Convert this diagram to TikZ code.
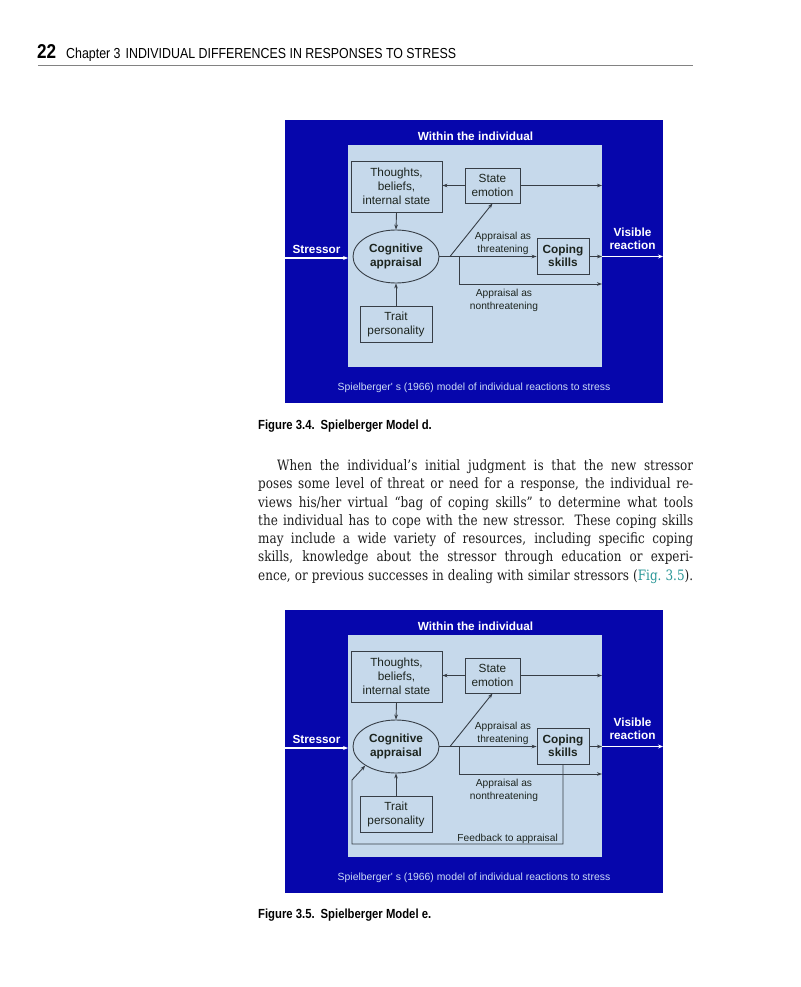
\documentclass[tikz,border=0pt]{standalone}
\usepackage{fontspec}
\setmainfont{Liberation Serif}
\newfontfamily\figsans{Liberation Sans}
\newfontfamily\condsans[FakeStretch=0.856]{Liberation Sans}
\newfontfamily\headsans[FakeStretch=0.855]{Liberation Sans}
\newfontfamily\bodyfont[FakeStretch=0.84]{DejaVu Serif}
\usetikzlibrary{arrows.meta,shapes.geometric}
\definecolor{outerblue}{RGB}{6,6,172}
\definecolor{innerfill}{RGB}{198,217,235}
\definecolor{boxline}{RGB}{55,62,70}
\definecolor{figtext}{RGB}{28,36,30}
\definecolor{capblue}{RGB}{205,220,245}
\definecolor{linkteal}{RGB}{40,150,150}
\definecolor{bodytext}{RGB}{30,30,30}
\definecolor{rulegray}{RGB}{130,130,130}
\tikzset{
  fbox/.style={draw=boxline, line width=0.9pt, fill=innerfill, inner sep=0pt, align=center, text=figtext, font=\figsans\fontsize{11.8}{14}\selectfont},
  boldbox/.style={fbox, font=\figsans\bfseries\fontsize{11.8}{13.5}\selectfont},
  conn/.style={draw=boxline, line width=0.9pt},
  tip/.style={-{Stealth[length=5pt,width=3.6pt]}},
  whitearrow/.style={draw=white, line width=1.2pt, -{Stealth[length=5pt,width=4pt]}},
  titletxt/.style={text=white, inner sep=0pt, font=\figsans\bfseries\fontsize{11.8}{13.5}\selectfont},
  whitelab/.style={text=white, inner sep=0pt, align=center, font=\figsans\bfseries\fontsize{11.8}{13.4}\selectfont},
  smalllab/.style={text=figtext, inner sep=0pt, align=center, font=\figsans\fontsize{10.2}{13}\selectfont},
  captxt/.style={text=capblue, inner sep=0pt, font=\figsans\fontsize{10.4}{12}\selectfont},
  bodyline/.style={anchor=base west, inner sep=0pt, text=bodytext, font=\bodyfont\fontsize{14.3}{18}\selectfont},
  figcap/.style={anchor=base west, inner sep=0pt, text=black, font=\condsans\bfseries\fontsize{13.2}{13.2}\selectfont},
  panel/.style={inner sep=0pt, anchor=north west}
}
\newcommand{\spielfig}[2]{%
\begin{scope}[shift={(0,#2)}]
  \node[panel, fill=outerblue, minimum width=378pt, minimum height=283pt] (#1outer) at (285,120) {};
  \node[panel, fill=innerfill, minimum width=254pt, minimum height=222pt] (#1inner) at (348,145) {};
  \node[titletxt] (#1title) at (475.5,136.5) {Within the individual};
  \node[fbox, minimum width=91pt, minimum height=51pt] (#1thoughts) at (396.5,186.5) {Thoughts,\\beliefs,\\internal state};
  \node[fbox, minimum width=55pt, minimum height=35pt] (#1state) at (492.5,185.5) {State\\emotion};
  \node[boldbox, ellipse, minimum width=86pt, minimum height=53pt] (#1cog) at (396,256.5) {Cognitive\\appraisal};
  \node[boldbox, minimum width=52pt, minimum height=36pt] (#1coping) at (563,256) {Coping\\skills};
  \node[fbox, minimum width=72pt, minimum height=36pt] (#1trait) at (396,324) {Trait\\personality};
  \node[whitelab] (#1stressor) at (316.5,249) {Stressor};
  \node[whitelab] (#1visible) at (632.5,238.5) {Visible\\reaction};
  \node[smalllab] (#1threat) at (503,243.3) {Appraisal as\\threatening};
  \node[smalllab] (#1nonthreat) at (504,300.5) {Appraisal as\\nonthreatening};
  \node[captxt] (#1cap) at (474,388) {Spielberger' s (1966) model of individual reactions to stress};
  \coordinate (#1sL) at (285,258);
  \coordinate (#1sR) at (348,258);
  \coordinate (#1seR) at (602,185.5);
  \coordinate (#1dj) at (450,256.5);
  \coordinate (#1bj) at (459,256.5);
  \coordinate (#1ntR) at (602,284);
  \coordinate (#1cR) at (602,256.5);
  \coordinate (#1oR) at (663,256.5);
  \draw[whitearrow] (#1sL) -- (#1sR);
  \draw[conn, tip] (#1state.west) -- (#1state.west -| #1thoughts.east);
  \draw[conn, tip] (#1state.east) -- (#1seR);
  \draw[conn, tip] (#1thoughts.south) -- (#1cog.north);
  \draw[conn, tip] (#1trait.north) -- (#1cog.south);
  \draw[conn, tip] (#1cog.east) -- (#1cog.east -| #1coping.west);
  \draw[conn, tip] (#1dj) -- (#1state.south);
  \draw[conn, tip] (#1bj) |- (#1ntR);
  \draw[conn, tip] (#1coping.east |- #1cR) -- (#1cR);
  \draw[whitearrow] (#1cR) -- (#1oR);
\end{scope}}
\begin{document}
\begin{tikzpicture}[x=1pt,y=-1pt]
\useasboundingbox (0,0) rectangle (800,987);
\fill[white] (0,0) rectangle (800,987);
% header
\node[anchor=base west, inner sep=0pt, font=\headsans\bfseries\fontsize{20}{20}\selectfont] (pnum) at (37,58.5) {22};
\node[anchor=base west, inner sep=0pt, font=\headsans\fontsize{14.5}{14.5}\selectfont] (chap) at (66,58.5) {Chapter 3\hspace{5pt}INDIVIDUAL DIFFERENCES IN RESPONSES TO STRESS};
\coordinate (ruleL) at (38,65);
\coordinate (ruleR) at (693,65);
\draw[rulegray, line width=0.9pt] (ruleL) -- (ruleR);
% figure 3.4
\spielfig{A}{0}
\node[figcap] (capA) at (258,429.5) {Figure 3.4.\hspace{6pt}Spielberger Model d.};
% body text
\node[bodyline] (b1) at (277,470.5) {\makebox[416pt][s]{When the individual’s initial judgment is that the new stressor}};
\node[bodyline] (b2) at (258,488.75) {\makebox[435pt][s]{poses some level of threat or need for a response, the individual re-}};
\node[bodyline] (b3) at (258,507) {\makebox[435pt][s]{views his/her virtual “bag of coping skills” to determine what tools}};
\node[bodyline] (b4) at (258,525.25) {\makebox[435pt][s]{the individual has to cope with the new stressor. These coping skills}};
\node[bodyline] (b5) at (258,543.5) {\makebox[435pt][s]{may include a wide variety of resources, including specific coping}};
\node[bodyline] (b6) at (258,561.75) {\makebox[435pt][s]{skills, knowledge about the stressor through education or experi-}};
\node[bodyline] (b7) at (258,580) {\makebox[435pt][s]{ence, or previous successes in dealing with similar stressors ({\color{linkteal}Fig.~3.5}).}};
% figure 3.5
\spielfig{B}{490}
\begin{scope}[shift={(0,490)}]
  \coordinate (fbA) at (563,354);
  \coordinate (fbB) at (352,354);
  \coordinate (fbC) at (352,290);
  \draw[conn, tip] (Bcoping.south) -- (fbA) -- (fbB) -- (fbC) -- (Bcog.south west);
  \node[smalllab, anchor=base east] (fbtxt) at (558,351) {Feedback to appraisal};
\end{scope}
\node[figcap] (capB) at (258,918) {Figure 3.5.\hspace{6pt}Spielberger Model e.};
\end{tikzpicture}
\end{document}
